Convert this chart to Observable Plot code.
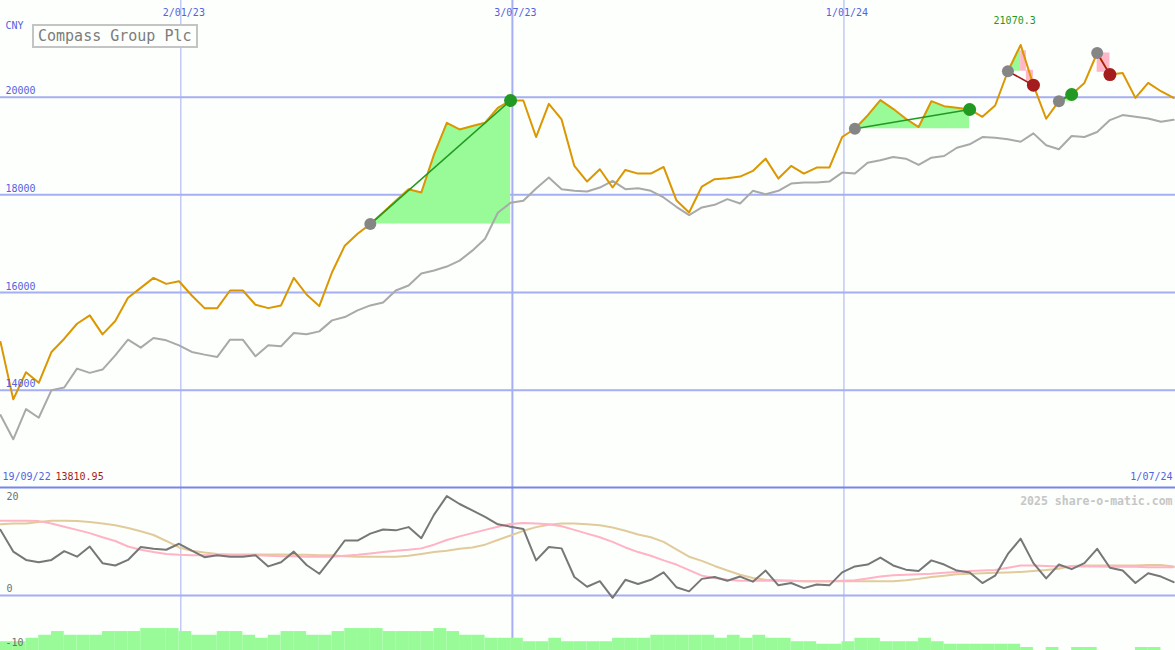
<!DOCTYPE html>
<html><head><meta charset="utf-8">
<script src="https://cdn.jsdelivr.net/npm/d3@7"></script>
<script src="https://cdn.jsdelivr.net/npm/@observablehq/plot@0.6"></script>
<style>
html,body{margin:0;padding:0;background:#fcfffc;}
#chart{position:relative;width:1175px;height:650px;overflow:hidden;}
#chart svg{display:block;}
#title{position:absolute;z-index:2;left:32px;top:24px;width:166px;height:24px;box-sizing:border-box;border:2px solid #c4c4c4;background:#fcfffc;font-family:"DejaVu Sans Mono",monospace;font-size:15px;line-height:20px;color:#7c7c7c;padding-left:4px;white-space:nowrap;}
</style></head><body>
<div id="chart"><div id="title">Compass Group Plc</div></div>
<script>
// ---- data (weekly) ----
const firstWeek = "2022-09-25";
const lastDay = "2024-07-01";
const price = [14986,13810.95,14367,14150,14782,15054,15360,15531,15143,15415,
15891,16095,16299,16177,16231,15939,15680,15680,16041,16041,
15748,15680,15735,16299,15959,15721,16415,16959,17204,17401,
17639,17878,18116,18048,18830,19476,19340,19408,19476,19782,
19932,19932,19184,19864,19544,18592,18272,18524,18150,18510,
18435,18435,18571,17891,17639,18170,18320,18340,18374,18490,
18741,18333,18592,18435,18558,18558,19184,19354,19626,19939,
19762,19558,19388,19918,19816,19782,19748,19599,19830,20531,
21070.3,20245,19558,19918,20055,20292,20905,20463,20496,19986,
20292,20122,19986];
const relative = [13490,12994,13612,13435,14000,14055,14442,14354,14422,14714,
15034,14871,15068,15020,14918,14782,14728,14680,15034,15034,
14694,14918,14898,15170,15143,15204,15429,15497,15633,15735,
15796,16041,16143,16388,16449,16531,16653,16857,17102,17633,
17837,17878,18129,18353,18116,18082,18068,18150,18286,18116,
18136,18082,17946,17755,17585,17742,17796,17912,17823,18082,
18014,18082,18231,18252,18252,18272,18456,18435,18659,18708,
18776,18741,18612,18761,18796,18965,19035,19184,19169,19137,
19088,19259,19014,18933,19204,19184,19286,19531,19633,19598,
19565,19496,19537];
const momentum = [14.2,9.5,7.7,7.2,7.7,9.6,8.4,10.6,7.0,6.5,
7.7,10.5,10.1,9.9,11.2,9.7,8.3,8.7,8.4,8.4,
8.7,6.3,7.2,9.5,6.6,4.7,8.2,11.9,11.9,13.4,
14.3,14.1,14.8,12.4,17.5,21.5,19.8,18.4,17.0,15.4,
14.9,14.4,7.6,10.5,10.2,4.0,1.9,3.1,-0.5,3.4,
2.5,3.4,5.0,1.8,0.9,3.6,4.0,3.2,4.1,3.0,
5.4,2.2,2.7,1.6,2.4,2.2,5.0,6.3,6.7,8.2,
6.5,5.6,5.3,7.6,6.7,5.4,5.0,2.7,4.3,9.0,
12.3,7.0,3.7,6.7,5.7,7.0,10.1,6.0,5.4,2.7,
4.8,4.1,2.9];
const fastAvg = [16.2,16.2,16.2,16.1,15.6,14.9,14.2,13.5,12.6,11.8,
10.6,9.9,9.4,9.0,8.8,8.7,8.7,8.7,8.7,8.7,
8.7,8.6,8.5,8.5,8.4,8.4,8.4,8.6,8.8,9.1,
9.4,9.7,9.9,10.2,11.0,12.0,12.8,13.5,14.2,14.9,
15.5,15.7,15.6,15.4,15.0,14.2,13.4,12.6,11.6,10.4,
9.4,8.6,7.6,6.7,5.5,4.3,3.8,3.4,3.2,3.2,
3.2,3.2,3.2,3.1,3.1,3.1,3.2,3.3,3.7,4.1,
4.4,4.5,4.6,4.7,4.9,5.1,5.3,5.4,5.5,6.0,
6.5,6.5,6.4,6.3,6.3,6.3,6.3,6.2,6.2,6.2,
6.1,6.1,6.1];
const slowAvg = [15.4,15.6,15.6,15.9,16.2,16.2,16.1,15.9,15.6,15.2,
14.6,13.9,13.1,11.8,10.4,9.7,9.3,9.0,8.9,8.9,
8.9,8.9,8.9,8.8,8.8,8.7,8.7,8.5,8.4,8.4,
8.4,8.4,8.6,9.0,9.4,9.7,10.1,10.4,11.0,12.0,
13.0,14.0,14.8,15.3,15.6,15.6,15.4,15.2,14.7,14.0,
13.2,12.6,11.6,10.0,8.4,7.5,6.4,5.4,4.5,3.8,
3.4,3.3,3.2,3.1,3.1,3.1,3.1,3.1,3.1,3.1,
3.1,3.3,3.6,4.0,4.3,4.6,4.7,4.8,4.9,5.0,
5.1,5.3,5.5,5.8,6.4,6.5,6.5,6.5,6.5,6.5,
6.6,6.6,6.3];
const volume = [-10.0,-10.0,-9.25,-8.6,-7.8,-8.6,-8.6,-8.6,-7.8,-7.8,
-7.8,-7.15,-7.15,-7.15,-7.8,-8.6,-8.6,-7.8,-7.8,-8.6,
-9.25,-8.6,-7.8,-7.8,-8.6,-8.6,-7.8,-7.15,-7.15,-7.15,
-7.8,-7.8,-7.8,-7.8,-7.15,-7.8,-8.6,-8.6,-9.25,-9.25,
-9.25,-10.0,-10.0,-9.25,-10.0,-10.0,-10.0,-10.0,-9.25,-9.25,
-9.25,-8.6,-8.6,-8.6,-8.6,-8.6,-9.25,-8.6,-9.25,-8.6,
-9.25,-9.25,-10.0,-10.0,-10.55,-10.55,-10.0,-9.25,-9.25,-10.0,
-10.0,-10.0,-9.25,-10.0,-10.55,-10.55,-10.55,-10.55,-10.55,-10.55,
-11.25,null,-11.25,null,-11.25,-11.25,null,null,null,-11.25,
-11.25,null,null];
const priceTicks = [14000,16000,18000,20000];
const indicatorTicks = [20, 0];
const indicatorLowTick = [-10];
const dateTicks = ["2023-01-02","2023-07-03","2024-01-01"];
const dateTickLabels = ["2/01/23","3/07/23","1/01/24"];
const startLabel = "19/09/22";
const endLabel = "1/07/24";
const currency = "CNY";
const watermark = "2025 share-o-matic.com";
const signals = [
  {start:29,end:40,kind:"buy",greenTo:40},
  {start:67,end:76,kind:"buy",greenTo:76},
  {start:79,end:81,kind:"sell",greenTo:80},
  {start:83,end:84,kind:"buy",greenTo:84},
  {start:86,end:87,kind:"sell",greenTo:null}
];
const pinkZones = [
  {from:80,to:80.45,lo:20531,hi:20950},
  {from:80.45,to:81,lo:20330,hi:20551},
  {from:86,to:87,lo:20510,hi:20905}
];

// ---- helpers ----
const DAY = 86400000;
const t0 = new Date(firstWeek + "T00:00:00Z").getTime();
const weekDate = i => new Date(t0 + i * 7 * DAY);
const rows = price.map((p, i) => ({date: weekDate(i), price: p, rel: relative[i],
  mom: momentum[i], fast: fastAvg[i], slow: slowAvg[i], vol: volume[i], i}));
const xDomain = [new Date(firstWeek + "T00:00:00Z"), new Date(lastDay + "T00:00:00Z")];
const tickRows = dateTicks.map((d, k) => ({date: new Date(d + "T00:00:00Z"), label: dateTickLabels[k]}));

const GRID = "#a6aef4", DIV = "#7886ec", BLUE = "#5363e0";
const GREEN = "#229922", RED = "#a41c1c", FILLG = "#98fb98", FILLP = "#ffb6c8";
const FONT = "DejaVu Sans Mono, monospace";

const fillRows = [];
signals.forEach((s, k) => {
  if (s.greenTo == null) return;
  for (let i = s.start; i <= s.greenTo; i++) fillRows.push({date: rows[i].date, base: price[s.start], price: price[i], sig: k});
});
const maxIdx = d3.maxIndex(price), minIdx = d3.minIndex(price);

const topChart = Plot.plot({
  width: 1175, height: 486, margin: 0,
  x: {type: "utc", domain: xDomain, axis: null},
  y: {domain: [12027, 21980], axis: null},
  color: {type: "identity"},
  style: {background: "transparent", fontFamily: FONT, fontSize: "10px"},
  marks: [
    Plot.ruleY(priceTicks, {stroke: GRID, strokeWidth: 2}),
    Plot.ruleX(tickRows, {x: "date", stroke: GRID, strokeWidth: d => d.label === "3/07/23" ? 2 : 1}),
    Plot.areaY(fillRows, {x: "date", y1: "base", y2: "price", z: "sig", fill: FILLG, curve: "linear"}),
    Plot.rect(pinkZones, {x1: d => weekDate(d.from), x2: d => weekDate(d.to), y1: "lo", y2: "hi", fill: FILLP}),
    Plot.line(rows, {x: "date", y: "rel", stroke: "#a9a9a9", strokeWidth: 2}),
    Plot.line(rows, {x: "date", y: "price", stroke: "#dc9600", strokeWidth: 2}),
    Plot.link(signals, {x1: s => weekDate(s.start), y1: s => price[s.start], x2: s => weekDate(s.end), y2: s => price[s.end],
      stroke: s => s.kind === "buy" ? GREEN : RED, strokeWidth: 1.6}),
    Plot.dot(signals, {x: s => weekDate(s.start), y: s => price[s.start], r: 6, fill: "#858585"}),
    Plot.dot(signals, {x: s => weekDate(s.end), y: s => price[s.end], r: 6.5, fill: s => s.kind === "buy" ? GREEN : RED}),
    Plot.text(tickRows, {x: "date", frameAnchor: "top", dy: 8, dx: 3, text: "label", fill: BLUE}),
    Plot.text(priceTicks, {y: d => d, frameAnchor: "left", dx: 5, dy: -6, textAnchor: "start", text: d => String(d), fill: BLUE}),
    Plot.text([currency], {frameAnchor: "top-left", dx: 5, dy: 21, textAnchor: "start", fill: BLUE}),
    Plot.text([maxIdx], {x: i => rows[i].date, y: i => price[i], dy: -24, dx: -6, text: i => String(price[i]), fill: GREEN}),
    Plot.text([startLabel], {frameAnchor: "bottom-left", dx: 2, dy: -7, textAnchor: "start", fill: BLUE}),
    Plot.text([minIdx], {frameAnchor: "bottom-left", dx: 55, dy: -7, textAnchor: "start", text: i => String(price[i]), fill: RED}),
    Plot.text([endLabel], {frameAnchor: "bottom-right", dx: -3, dy: -7, textAnchor: "end", fill: BLUE})
  ]
});

const botDomain = [-11.9, 23.59];
const dividerVal = botDomain[1] - (botDomain[1] - botDomain[0]) / 164;
const volRows = rows.filter(r => r.vol != null);
const bottomChart = Plot.plot({
  width: 1175, height: 164, margin: 0,
  x: {type: "utc", domain: xDomain, axis: null},
  y: {domain: botDomain, axis: null},
  color: {type: "identity"},
  style: {background: "transparent", fontFamily: FONT, fontSize: "10px"},
  marks: [
    Plot.ruleY([0], {stroke: GRID, strokeWidth: 2}),
    Plot.ruleX(tickRows, {x: "date", stroke: GRID, strokeWidth: d => d.label === "3/07/23" ? 2 : 1}),
    Plot.rect(volRows, {x1: "date", x2: r => weekDate(r.i + 1), y1: botDomain[0], y2: "vol", fill: FILLG}),
    Plot.ruleY([dividerVal], {stroke: DIV, strokeWidth: 2}),
    Plot.line(rows, {x: "date", y: "slow", stroke: "#e2cb9a", strokeWidth: 2}),
    Plot.line(rows, {x: "date", y: "fast", stroke: "#ffb3c4", strokeWidth: 2}),
    Plot.line(rows, {x: "date", y: "mom", stroke: "#777777", strokeWidth: 2}),
    Plot.text(indicatorTicks, {y: d => d, frameAnchor: "left", dx: 6, dy: -6.5, textAnchor: "start", text: d => String(d), fill: "#707070"}),
    Plot.text(indicatorLowTick, {y: d => d, frameAnchor: "left", dx: 5, dy: 1, textAnchor: "start", text: d => String(d), fill: "#707070"}),
    Plot.text([watermark], {frameAnchor: "top-right", dx: -3, dy: 10, textAnchor: "end", fill: "#c6c6c6", fontSize: 11.5, fontWeight: "bold"})
  ]
});
const chart = document.getElementById("chart");
chart.appendChild(topChart);
chart.appendChild(bottomChart);
</script></body></html>
